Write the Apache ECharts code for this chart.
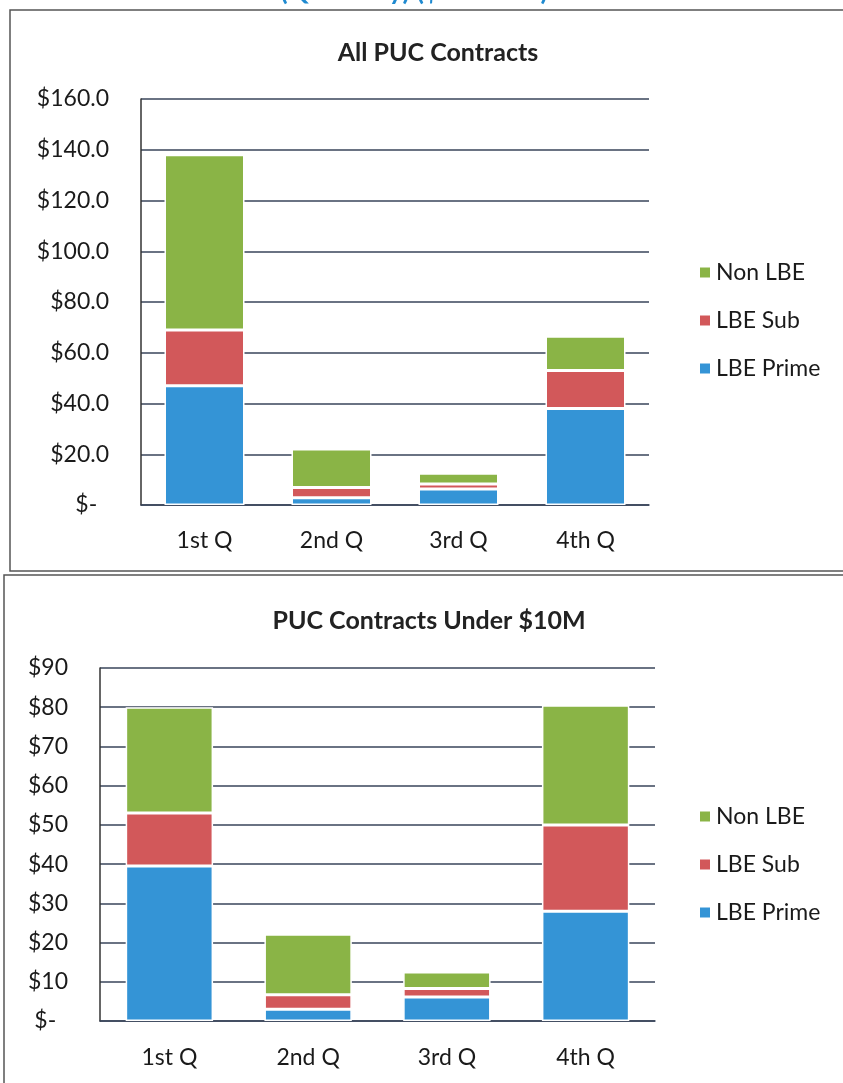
<!DOCTYPE html>
<html>
<head>
<meta charset="utf-8">
<script src="https://cdn.jsdelivr.net/npm/echarts@6/dist/echarts.min.js"></script>
<style>
  html, body { margin: 0; padding: 0; background: #fff; }
  #main { width: 843px; height: 1083px; }
</style>
</head>
<body>
<div id="main"></div>
<script>
// quarters on the x axis
var categories = ['1st Q', '2nd Q', '3rd Q', '4th Q'];
var seriesNames = ['LBE Prime', 'LBE Sub', 'Non LBE'];

// All PUC Contracts ($ millions)
var allPrime = [47, 2.9, 6.3, 38];
var allSub = [22, 4, 2, 15];
var allNon = [69, 15.2, 4.2, 13.5];

// PUC Contracts Under $10M ($ millions)
var underPrime = [39.5, 3, 6.1, 28];
var underSub = [13.5, 3.7, 2.2, 22];
var underNon = [27, 15.4, 4.2, 30.5];

var colors = ['#3494d6', '#d2585a', '#8ab446'];
var fontName = 'Lato';

var chart = echarts.init(document.getElementById('main'), null, { renderer: 'canvas' });

function barSeries(name, data, gridIndex, colorIndex, stackName) {
  return {
    name: name,
    type: 'bar',
    stack: stackName,
    xAxisIndex: gridIndex,
    yAxisIndex: gridIndex,
    barCategoryGap: '37%',
    data: data,
    itemStyle: {
      color: colors[colorIndex],
      borderColor: '#ffffff',
      borderWidth: 1.5
    },
    emphasis: { disabled: true }
  };
}

function yAxisFor(gridIndex, max, interval, decimals, dashLabel) {
  return {
    type: 'value',
    gridIndex: gridIndex,
    min: 0,
    max: max,
    interval: interval,
    axisLine: { show: true, lineStyle: { color: '#333', width: 1.5 } },
    axisTick: { show: false },
    splitLine: { show: true, lineStyle: { color: '#38445a', width: 1.5 } },
    axisLabel: {
      margin: 32,
      fontFamily: fontName,
      fontSize: 23,
      color: '#1a1a1a',
      formatter: function (v) {
        if (v === 0) {
          return dashLabel;
        }
        return '$' + v.toFixed(decimals);
      }
    }
  };
}

function xAxisFor(gridIndex, margin) {
  return {
    type: 'category',
    gridIndex: gridIndex,
    data: categories,
    axisLine: { show: true, lineStyle: { color: '#38445a', width: 1.5 } },
    axisTick: { show: false },
    axisLabel: {
      margin: margin,
      fontFamily: fontName,
      fontSize: 23,
      color: '#1a1a1a'
    }
  };
}

function legendFor(top) {
  return {
    orient: 'vertical',
    left: 693,
    top: top,
    itemWidth: 12,
    itemHeight: 12,
    itemGap: 25,
    icon: 'rect',
    data: ['Non LBE', 'LBE Sub', 'LBE Prime'],
    textStyle: { fontFamily: fontName, fontSize: 23, color: '#1a1a1a' },
    selectedMode: false
  };
}

var option = {
  backgroundColor: '#ffffff',
  animation: false,
  title: [
    {
      text: 'All PUC Contracts',
      left: 433,
      top: 35,
      textAlign: 'center',
      textStyle: { fontFamily: fontName, fontSize: 25, fontWeight: 'bold', color: '#222' }
    },
    {
      text: 'PUC Contracts Under $10M',
      left: 424,
      top: 603,
      textAlign: 'center',
      textStyle: { fontFamily: fontName, fontSize: 25, fontWeight: 'bold', color: '#222' }
    }
  ],
  legend: [legendFor(256), legendFor(800)],
  grid: [
    { left: 141, right: 194, top: 99, bottom: 578, containLabel: false },
    { left: 100, right: 188, top: 668, bottom: 62, containLabel: false }
  ],
  xAxis: [xAxisFor(0, 24), xAxisFor(1, 25)],
  yAxis: [
    yAxisFor(0, 160, 20, 1, '$-  '),
    yAxisFor(1, 90, 10, 0, '$-  ')
  ],
  series: [
    barSeries(seriesNames[0], allPrime, 0, 0, 'all'),
    barSeries(seriesNames[1], allSub, 0, 1, 'all'),
    barSeries('Non LBE', allNon, 0, 2, 'all'),
    barSeries(seriesNames[0], underPrime, 1, 0, 'under'),
    barSeries(seriesNames[1], underSub, 1, 1, 'under'),
    barSeries('Non LBE', underNon, 1, 2, 'under')
  ],
  graphic: [
    // page heading, mostly cut off at the top edge
    {
      type: 'text',
      left: 95,
      top: -22,
      style: {
        text: 'LBE Utilization (Quarterly) ($ Millions)',
        font: 'bold 27px Lato',
        fill: '#1f8ad0'
      }
    },
    // panel frames
    {
      type: 'rect',
      shape: { x: 10, y: 10, width: 845, height: 561 },
      style: { fill: 'none', stroke: '#555', lineWidth: 1.5 }
    },
    {
      type: 'rect',
      shape: { x: 4, y: 575, width: 850, height: 520 },
      style: { fill: 'none', stroke: '#555', lineWidth: 1.5 }
    }
  ]
};

chart.setOption(option);
</script>
</body>
</html>
